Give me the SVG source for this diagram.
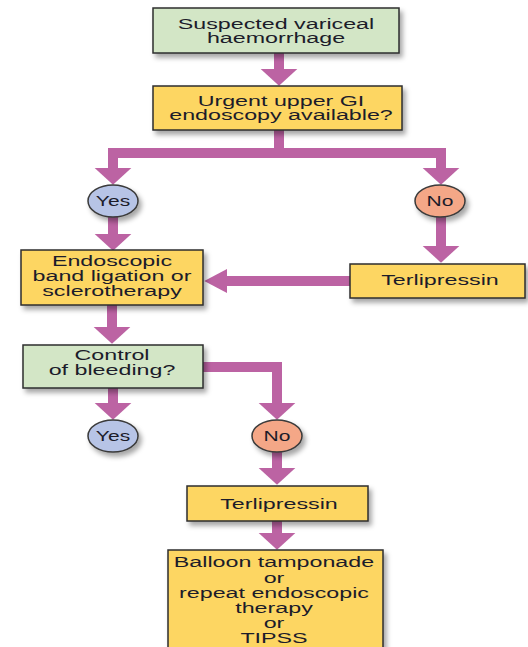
<svg xmlns="http://www.w3.org/2000/svg" width="528" height="647" viewBox="0 0 528 647">
<defs>
<filter id="sh" x="-20%" y="-20%" width="150%" height="160%">
<feDropShadow dx="3" dy="4" stdDeviation="2.5" flood-color="#000" flood-opacity="0.35"/>
</filter>
<marker id="av" markerUnits="userSpaceOnUse" markerWidth="20" markerHeight="40" viewBox="0 -18 16 36" refX="0" refY="0" orient="auto">
<polygon points="0,-16.5 15,0 0,16.5" fill="#bc63a3"/>
</marker>
<marker id="ah" markerUnits="userSpaceOnUse" markerWidth="24" markerHeight="26" viewBox="0 -12 22 24" refX="0" refY="0" orient="auto">
<polygon points="0,-11 21,0 0,11" fill="#bc63a3"/>
</marker>
</defs>
<style>
.g{fill:#d3e6c6;stroke:#2e2e2e;stroke-width:1.5;filter:url(#sh)}
.y{fill:#fdd662;stroke:#2e2e2e;stroke-width:1.5;filter:url(#sh)}
.b{fill:#b7c4e6;stroke:#3a3a3a;stroke-width:1.5;filter:url(#sh)}
.s{fill:#f4a787;stroke:#3a3a3a;stroke-width:1.5;filter:url(#sh)}
text{font-family:"Liberation Sans",Arial,sans-serif;font-size:15.5px;fill:#1c1c2a;text-anchor:middle}
.o{font-size:14.5px}
.c{fill:none;stroke:#bc63a3;stroke-width:10;stroke-linejoin:miter}
.cv{marker-end:url(#av)}
.ch{marker-end:url(#ah)}
</style>
<rect width="528" height="647" fill="#fff"/>

<g id="connectors">
<path class="c cv" d="M279,53 V69"/>
<path class="c" d="M279,130 V153"/>
<path class="c cv" d="M279,153 H113 V168"/>
<path class="c cv" d="M279,153 H441 V168"/>
<path class="c cv" d="M113,216 V234"/>
<path class="c cv" d="M441,216 V246"/>
<path class="c ch" d="M350,281 H227"/>
<path class="c cv" d="M112,305 V327"/>
<path class="c cv" d="M113,388 V403"/>
<path class="c cv" d="M203,367 H277 V403"/>
<path class="c cv" d="M277,452 V468"/>
<path class="c cv" d="M277,521 V533"/>
</g>

<g id="n1">
<rect class="g" x="153" y="8" width="246" height="45"/>
<text transform="translate(276 0) scale(1.5 1)"><tspan x="0" y="29">Suspected variceal</tspan><tspan x="0" y="43.5">haemorrhage</tspan></text>
</g>
<g id="n2">
<rect class="y" x="153" y="86" width="249" height="44"/>
<text transform="translate(281 0) scale(1.5 1)"><tspan x="0" y="106">Urgent upper GI</tspan><tspan x="0" y="120.5">endoscopy available?</tspan></text>
</g>
<g id="yes1">
<ellipse class="b" cx="113" cy="201" rx="25" ry="16"/>
<text class="o" transform="translate(113 0) scale(1.45 1)" x="0" y="206.5">Yes</text>
</g>
<g id="no1">
<ellipse class="s" cx="440" cy="201" rx="25" ry="16"/>
<text class="o" transform="translate(440 0) scale(1.45 1)" x="0" y="206.5">No</text>
</g>
<g id="n3">
<rect class="y" x="21" y="250" width="182" height="55"/>
<text transform="translate(112 0) scale(1.5 1)"><tspan x="0" y="266">Endoscopic</tspan><tspan x="0" y="281">band ligation or</tspan><tspan x="0" y="296">sclerotherapy</tspan></text>
</g>
<g id="n4">
<rect class="y" x="350" y="264" width="175" height="34"/>
<text transform="translate(440 0) scale(1.5 1)" x="0" y="285.5">Terlipressin</text>
</g>
<g id="n5">
<rect class="g" x="23" y="345" width="180" height="43"/>
<text transform="translate(112 0) scale(1.5 1)"><tspan x="0" y="360">Control</tspan><tspan x="0" y="375">of bleeding?</tspan></text>
</g>
<g id="yes2">
<ellipse class="b" cx="113" cy="436" rx="25" ry="16"/>
<text class="o" transform="translate(113 0) scale(1.45 1)" x="0" y="441.5">Yes</text>
</g>
<g id="no2">
<ellipse class="s" cx="277" cy="436" rx="25" ry="16"/>
<text class="o" transform="translate(277 0) scale(1.45 1)" x="0" y="441.5">No</text>
</g>
<g id="n6">
<rect class="y" x="187" y="486" width="181" height="35"/>
<text transform="translate(279 0) scale(1.5 1)" x="0" y="509">Terlipressin</text>
</g>
<g id="n7">
<rect class="y" x="168" y="550" width="215" height="110"/>
<text transform="translate(274 0) scale(1.5 1)"><tspan x="0" y="567.5">Balloon tamponade</tspan><tspan x="0" y="583">or</tspan><tspan x="0" y="598">repeat endoscopic</tspan><tspan x="0" y="613">therapy</tspan><tspan x="0" y="628">or</tspan><tspan x="0" y="643">TIPSS</tspan></text>
</g>
</svg>
